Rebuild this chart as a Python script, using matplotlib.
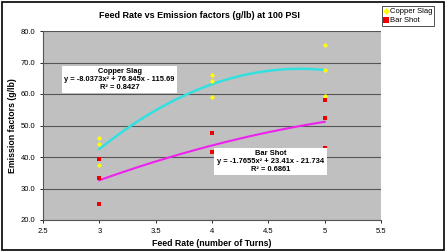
import numpy as np
import matplotlib
matplotlib.use("Agg")
import matplotlib.pyplot as plt
from matplotlib.patches import Rectangle

plt.rcParams['font.family'] = ['Liberation Sans', 'DejaVu Sans']

# Copper Slag readings
cs_x = [3, 3, 3, 4, 4, 4, 5, 5, 5]
cs_y = [45.9, 44.1, 37.5, 66.1, 64.2, 58.9, 75.6, 67.7, 59.4]

# Bar Shot readings
bs_x = [3, 3, 3, 4, 4, 5, 5, 5]
bs_y = [39.3, 33.2, 25.2, 47.5, 41.7, 58.0, 52.5, 42.9]

# trendline coefficients (as printed on chart)
cs_fit = [-8.0373, 76.845, -115.69]
bs_fit = [-1.7655, 23.41, -21.734]
cs_r2 = 0.8427
bs_r2 = 0.6861

xticks = [2.5, 3, 3.5, 4, 4.5, 5, 5.5]
yticks = [20, 30, 40, 50, 60, 70, 80]

fig = plt.figure(figsize=(4.46, 2.52), dpi=100)
fig.patches.append(Rectangle((0.004, 0.006), 0.992, 0.988, transform=fig.transFigure,
                             fill=False, edgecolor='black', linewidth=1.2))
ax = fig.add_axes([43/446, 1 - 220/252, 338/446, 189/252])
ax.set_facecolor('#C0C0C0')

xx = np.linspace(3, 5, 100)
ax.plot(xx, np.polyval(cs_fit, xx), color='#33E0E0', lw=1.8, zorder=2)
ax.plot(xx, np.polyval(bs_fit, xx), color='#EE22EE', lw=1.5, zorder=2)

ax.scatter(cs_x, cs_y, marker='D', s=7, color='#FFFF00', zorder=3, label='Copper Slag', linewidths=0)
ax.scatter(bs_x, bs_y, marker='s', s=9, color='#EE0000', zorder=3, label='Bar Shot', linewidths=0)

ax.set_xlim(2.5, 5.5)
ax.set_ylim(20, 80)
ax.set_xticks(xticks)
ax.set_xticklabels([f'{v:g}' for v in xticks])
ax.set_yticks(yticks)
ax.set_yticklabels([f'{v:.1f}' for v in yticks])
ax.tick_params(labelsize=5.5, length=2, width=0.6)
ax.yaxis.grid(True, color='#555555', lw=0.8)
ax.set_axisbelow(True)
for s in ['top', 'right']:
    ax.spines[s].set_visible(False)
for s in ['left', 'bottom']:
    ax.spines[s].set_color('#555555')
    ax.spines[s].set_linewidth(0.8)

ax.set_xlabel('Feed Rate (number of Turns)', fontsize=6.3, fontweight='bold', labelpad=3)
ax.set_ylabel('Emission factors (g/lb)', fontsize=6.3, fontweight='bold', labelpad=3)
fig.text(199/446, 1 - 16/252, 'Feed Rate vs Emission factors (g/lb) at 100 PSI',
         ha='center', va='center', fontsize=6.5, fontweight='bold')

leg = fig.legend(loc='upper left', bbox_to_anchor=(382/446, 1 - 6/252), fontsize=5.5,
                 frameon=True, fancybox=False, edgecolor='black', handlelength=0.5,
                 handletextpad=0.3, borderpad=0.25, labelspacing=0.15, markerscale=1.3,
                 borderaxespad=0)
leg.get_frame().set_linewidth(0.6)

def eq(c):
    return f'y = {c[0]:g}x² + {c[1]:g}x - {abs(c[2]):g}'

bbox = dict(boxstyle='square,pad=0.35', facecolor='white', edgecolor='none')
fig.text(119.5/446, 1 - 79.5/252, f'Copper Slag\n{eq(cs_fit)}\nR² = {cs_r2:.4f}',
         ha='center', va='center', fontsize=5.4, fontweight='bold', bbox=bbox, linespacing=1.15)
fig.text(270.5/446, 1 - 161.5/252, f'Bar Shot\n{eq(bs_fit)}\nR² = {bs_r2:.4f}',
         ha='center', va='center', fontsize=5.4, fontweight='bold', bbox=bbox, linespacing=1.15)

fig.savefig('out.png', dpi=100)
